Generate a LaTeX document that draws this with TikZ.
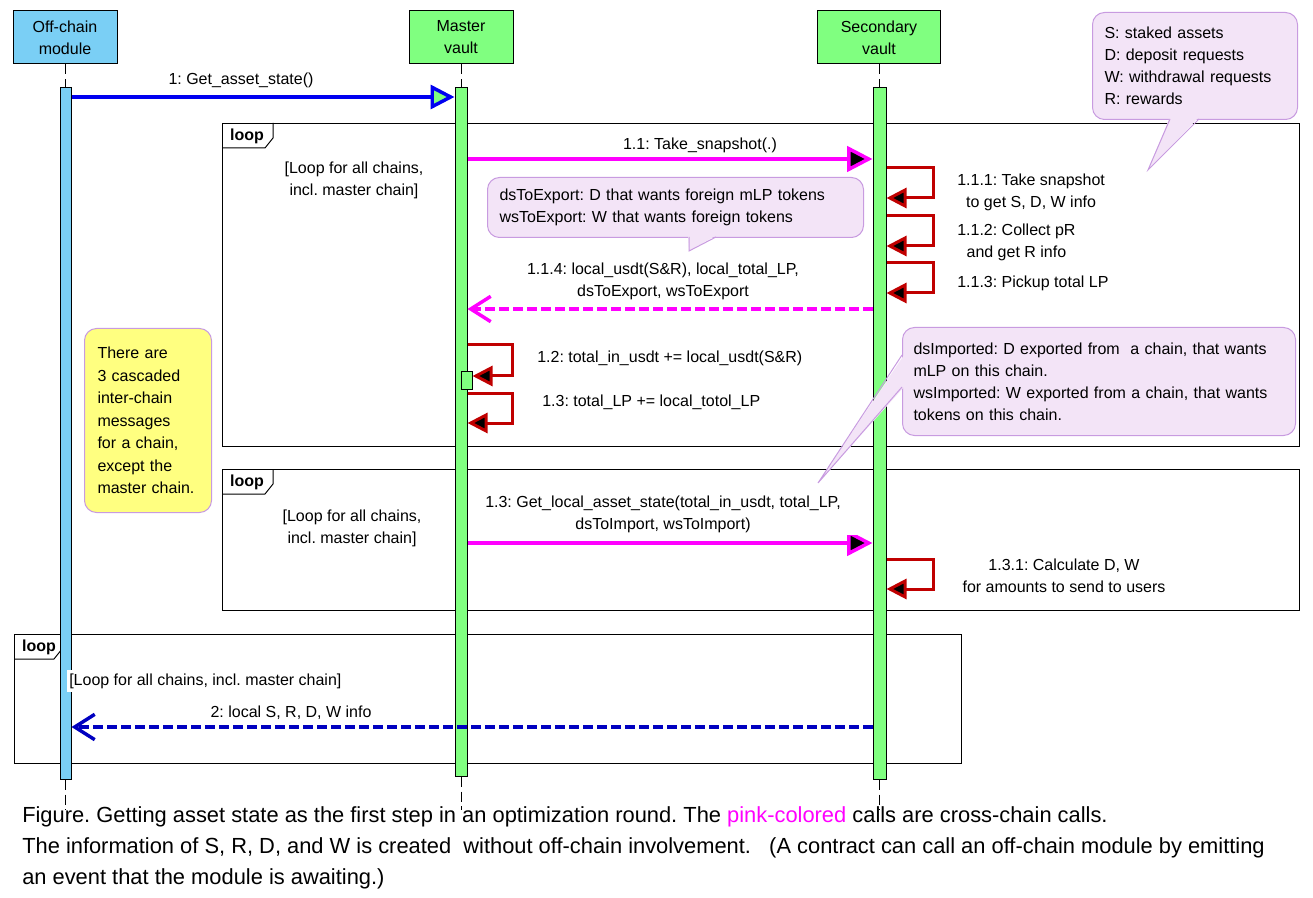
\documentclass[tikz,border=0pt]{standalone}
\usepackage{fontspec}
\setmainfont{Liberation Sans}
\usetikzlibrary{arrows.meta}

\definecolor{offblue}{HTML}{7ACFF5}
\definecolor{vaultgreen}{HTML}{80FF80}
\definecolor{crosspink}{HTML}{FF00FF}
\definecolor{syncblue}{HTML}{0000F0}
\definecolor{replyblue}{HTML}{0000C0}
\definecolor{selfred}{HTML}{C00000}
\definecolor{notefill}{HTML}{F3E4F7}
\definecolor{noteline}{HTML}{C89BE0}
\definecolor{noteyellow}{HTML}{FFFF80}

\frenchspacing
\begin{document}
\begin{tikzpicture}[
    x=0.75pt, y=-0.75pt,
    every node/.style={font=\fontsize{12}{16.5}\selectfont},
    head/.style={draw, line width=0.75pt, minimum height=39.75pt, align=center, inner sep=0pt},
    bar/.style={draw, line width=0.75pt, anchor=north, inner sep=0pt, minimum width=9pt},
    lifeline/.style={line width=0.75pt, dash pattern=on 7.5pt off 3.5pt},
    frame/.style={draw, line width=0.75pt, anchor=north west, inner sep=0pt, minimum width=807.75pt},
    lbl/.style={align=center, inner sep=0pt},
    note/.style={draw=noteline, fill=notefill, line width=0.75pt, rounded corners=9pt, anchor=north west,
      align=left, inner xsep=9pt, inner ysep=0pt},
    sync/.style={draw=syncblue, line width=2.6pt, -{Triangle[fill=vaultgreen, length=18pt, width=18pt]}},
    cross/.style={draw=crosspink, line width=2.6pt, -{Triangle[fill=black, length=19pt, width=19pt]}},
    crossreply/.style={draw=crosspink, line width=2.6pt, dash pattern=on 7.5pt off 3pt,
      -{Straight Barb[length=15pt, width=19pt]}},
    reply/.style={draw=replyblue, line width=2.6pt, dash pattern=on 7.5pt off 3pt,
      -{Straight Barb[length=15pt, width=19pt]}},
    selfcall/.style={draw=selfred, line width=2.25pt, -{Triangle[fill=black, length=15pt, width=15pt]}}
  ]
\useasboundingbox (0,0) rectangle (1313,898);

% Loop frames
\node[frame, minimum height=242.25pt] (loop1) at (222,123) {};
\node[frame, minimum height=105.75pt] (loop2) at (222,469) {};
\node[frame, minimum width=710.25pt, minimum height=96.75pt] (loop3) at (14,634) {};
\foreach \f/\w in {loop1/43, loop2/43, loop3/40} {
    \draw[line width=0.75pt] ([yshift=-18.75pt]\f.north west) -- ++(\w,0) -- ++(8,-10) -- ++(0,-15);
    \node[font=\fontsize{12}{14}\selectfont\bfseries] at ([xshift=18.75pt, yshift=-9.75pt]\f.north west) {loop};
}
\node[lbl] (guard1) at (354,180.5) {[Loop for all chains,\\incl. master chain]};
\node[lbl] (guard2) at (352,528) {[Loop for all chains,\\incl. master chain]};

% Participants and lifelines
\node[head, fill=offblue, minimum width=78pt] (off) at (65,37.5) {Off-chain\\module};
\node[head, fill=vaultgreen, minimum width=78pt] (mst) at (461,37.5) {Master\\vault};
\node[head, fill=vaultgreen, minimum width=92.25pt] (sec) at (879,37.5) {Secondary\\vault};

\node[bar, fill=offblue, minimum width=8.25pt, minimum height=519pt] (off-bar) at (65.5,87) {};
\node[bar, fill=vaultgreen, minimum height=516.75pt] (mst-bar) at (461,87) {};
\node[bar, fill=vaultgreen, minimum width=9.75pt, minimum height=519pt] (sec-bar) at (879.5,87) {};

\coordinate (bottom) at (0,810);
\foreach \n in {off,mst,sec} {
    \draw[lifeline] (\n-bar.north |- \n.south) -- (\n-bar.north);
    \draw[lifeline] (\n-bar.south) -- (\n-bar.south |- bottom);
}

% Notes
\node[note, text width=135.75pt, minimum height=80.25pt] (legend) at (1092,12)
    {S: staked assets\\D: deposit requests\\W: withdrawal requests\\R: rewards};
\fill[notefill] (1170,117) -- (1148,170) -- (1199,117) -- cycle;
\draw[noteline, line width=0.75pt] (1170,119) -- (1148,170) -- (1199,119);

\node[note, text width=264pt, minimum height=45pt] (export) at (487,177)
    {dsToExport: D that wants foreign mLP tokens\\wsToExport: W that wants foreign tokens};
\fill[notefill] (688,235) -- (689,251) -- (717,235) -- cycle;
\draw[noteline, line width=0.75pt] (689,237) -- (689,251) -- (716,237);

\node[note, fill=noteyellow, inner xsep=9.75pt, text width=75.75pt, minimum height=138pt,
    font=\fontsize{12}{16.9}\selectfont] (cascade) at (84,328)
    {There are\\3 cascaded\\inter-chain\\messages\\for a chain,\\except the\\master chain.};

\node[note, inner xsep=8.25pt, text width=278.25pt, minimum height=81pt] (import) at (902,327)
    {dsImported: D exported from\ \ a chain, that wants\\mLP on this chain.\\wsImported: W exported from a chain, that wants\\tokens on this chain.};
\fill[notefill] (904,355) -- (818,483) -- (904,387) -- cycle;
\draw[noteline, line width=0.75pt] (902,355) -- (818,483) -- (902,387);

% 1: off-chain asks the master vault
\draw[sync] (off-bar.east |- 0,97) -- (mst-bar.west |- 0,97);
\node[lbl] (m1) at (241,80) {1: Get\_asset\_state()};

% First loop: snapshots
\draw[cross] (mst-bar.east |- 0,159) -- (sec-bar.west |- 0,159);
\node[lbl] (m11) at (700,145) {1.1: Take\_snapshot(.)};

\foreach \a/\b in {168/198, 216/246, 263/293}
    \draw[selfcall] (sec-bar.east |- 0,\a) -| (933,\b) -- (sec-bar.east |- 0,\b);
\node[lbl, anchor=west] (m111) at (957,192.5) {1.1.1: Take snapshot\\to get S, D, W info};
\node[lbl, anchor=west] (m112) at (957,242.5) {1.1.2: Collect pR\\and get R info};
\node[lbl, anchor=west] (m113) at (957,283) {1.1.3: Pickup total LP};

\draw[crossreply] (sec-bar.west |- 0,309) -- (mst-bar.east |- 0,309);
\node[lbl] (m114) at (663,281) {1.1.4: local\_usdt(S\&R), local\_total\_LP,\\dsToExport, wsToExport};

\node[draw, fill=vaultgreen, line width=0.75pt, inner sep=0pt, minimum width=8.25pt,
    minimum height=12.75pt] (mst-act) at (466.5,380.5) {};
\draw[selfcall] (mst-bar.east |- 0,345) -| (512,376) -- (mst-act.east |- 0,376);
\draw[selfcall] (mst-bar.east |- 0,393) -| (512,423) -- (mst-bar.east |- 0,423);
\node[lbl, anchor=west] (m12) at (537,358) {1.2: total\_in\_usdt += local\_usdt(S\&R)};
\node[lbl, anchor=west] (m13a) at (542,402) {1.3: total\_LP += local\_totol\_LP};

% Second loop: local asset state
\draw[cross] (mst-bar.east |- 0,543) -- (sec-bar.west |- 0,543);
\node[lbl, fill=white, inner xsep=12pt, inner ysep=2pt] (m13b) at (663,514)
    {1.3: Get\_local\_asset\_state(total\_in\_usdt, total\_LP,\\dsToImport, wsToImport)};
\draw[selfcall] (sec-bar.east |- 0,559) -| (933,589) -- (sec-bar.east |- 0,589);
\node[lbl] (m131) at (1064,576) {1.3.1: Calculate D, W\\for amounts to send to users};

% Third loop: back to the off-chain module
\node[lbl, anchor=west, fill=white, inner xsep=1.5pt, inner ysep=3pt] (guard3) at (67,681)
    {[Loop for all chains, incl. master chain]};
\draw[reply] (sec-bar.west |- 0,727) -- (off-bar.east |- 0,727);
\node[lbl] (m2) at (291,713) {2: local S, R, D, W info};

% Caption
\node[anchor=north west, align=left, inner sep=0pt, font=\fontsize{16.4}{23.25}\selectfont] (caption) at (22,806)
    {Figure. Getting asset state as the first step in an optimization round. The \textcolor{crosspink}{pink-colored} calls are cross-chain calls.\\
     The information of S, R, D, and W is created\ \ without off-chain involvement.\ \ \ (A contract can call an off-chain module by emitting\\
     an event that the module is awaiting.)};

\end{tikzpicture}
\end{document}
